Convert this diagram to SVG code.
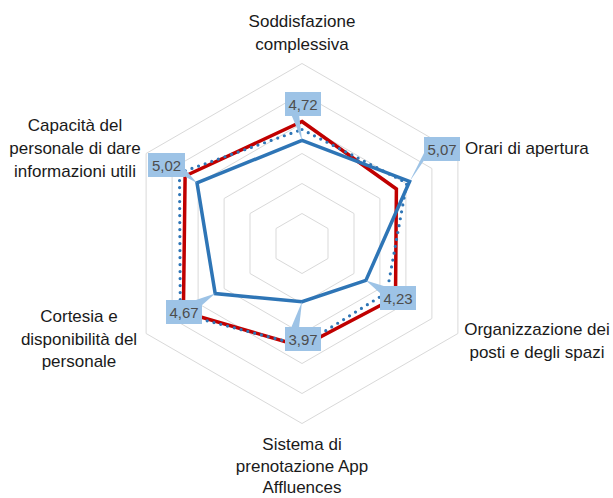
<svg xmlns="http://www.w3.org/2000/svg" width="613" height="498" viewBox="0 0 613 498">
<style>
.grid{fill:none;stroke:#d9d9d9;stroke-width:1}
.lbl{font-family:"Liberation Sans",Arial,sans-serif;font-size:17px;fill:#1a1a1a;text-anchor:middle}
.val{font-family:"Liberation Sans",Arial,sans-serif;font-size:15px;fill:#4d4d4d;text-anchor:middle}
.box{fill:#9dc3e6}
.red{fill:none;stroke:#c00000;stroke-width:3.5;stroke-linejoin:miter}
.dot{fill:none;stroke:#2e75b6;stroke-width:3.2;stroke-linecap:round;stroke-dasharray:0 7}
.blue{fill:none;stroke:#2e75b6;stroke-width:3.5;stroke-linejoin:miter}
</style>
<rect width="613" height="498" fill="#ffffff"/>
<g id="grid">
<polygon class="grid" points="302,213.5 328,228.5 328,258.5 302,273.5 276,258.5 276,228.5"/>
<polygon class="grid" points="302,183.5 354,213.5 354,273.5 302,303.5 250,273.5 250,213.5"/>
<polygon class="grid" points="302,153.5 379.9,198.5 379.9,288.5 302,333.5 224.1,288.5 224.1,198.5"/>
<polygon class="grid" points="302,123.5 405.9,183.5 405.9,303.5 302,363.5 198.1,303.5 198.1,183.5"/>
<polygon class="grid" points="302,93.5 431.9,168.5 431.9,318.5 302,393.5 172.1,318.5 172.1,168.5"/>
<polygon class="grid" points="302,63.5 457.9,153.5 457.9,333.5 302,423.5 146.1,333.5 146.1,153.5"/>
</g>
<g id="connectors">
<polygon class="red" points="302,121.5 396.4,189 395.5,297.5 302,346.5 183.4,312 185.1,176"/>
<polygon class="dot" points="302,129.5 406.8,183 386.9,292.5 302,345.5 180.3,313.8 179.5,172.8"/>
<polygon class="blue" points="302,140.3 409.6,181.4 365.9,280.4 302,301.7 215.2,293.6 197,182.9"/>
</g>
<g id="label-top"><text class="lbl" x="302" y="27">Soddisfazione</text><text class="lbl" x="302" y="50">complessiva</text></g>
<g id="label-tr"><text class="lbl" x="465" y="154" style="text-anchor:start">Orari di apertura</text></g>
<g id="label-br"><text class="lbl" x="537" y="335">Organizzazione dei</text><text class="lbl" x="537" y="358">posti e degli spazi</text></g>
<g id="label-b"><text class="lbl" x="302" y="450">Sistema di</text><text class="lbl" x="302" y="472">prenotazione App</text><text class="lbl" x="302" y="493">Affluences</text></g>
<g id="label-bl"><text class="lbl" x="79" y="322">Cortesia e</text><text class="lbl" x="79" y="345">disponibilità del</text><text class="lbl" x="79" y="367">personale</text></g>
<g id="label-tl"><text class="lbl" x="75" y="131">Capacità del</text><text class="lbl" x="75" y="154">personale di dare</text><text class="lbl" x="75" y="177">informazioni utili</text></g>
<g id="val-top"><polygon class="box" points="291,114 299,114 302,140.3"/><rect class="box" x="285" y="92" width="36" height="24"/><text class="val" x="303" y="109.5">4,72</text></g>
<g id="val-tr"><polygon class="box" points="425,151 425,159 409.6,181.4"/><rect class="box" x="424" y="137" width="36" height="24"/><text class="val" x="442" y="154.5">5,07</text></g>
<g id="val-br"><polygon class="box" points="381,294 387,287 365.9,280.4"/><rect class="box" x="380" y="286" width="36" height="24"/><text class="val" x="398" y="303.5">4,23</text></g>
<g id="val-b"><polygon class="box" points="291,328 299,328 302,301.7"/><rect class="box" x="285" y="327" width="36" height="24"/><text class="val" x="303" y="344.5">3,97</text></g>
<g id="val-bl"><polygon class="box" points="193,301 201,306 215.2,293.6"/><rect class="box" x="166" y="300" width="36" height="24"/><text class="val" x="184" y="317.5">4,67</text></g>
<g id="val-tl"><polygon class="box" points="184,168 184,176 197,182.9"/><rect class="box" x="148" y="153" width="37" height="24"/><text class="val" x="166.5" y="170.5">5,02</text></g>
</svg>
